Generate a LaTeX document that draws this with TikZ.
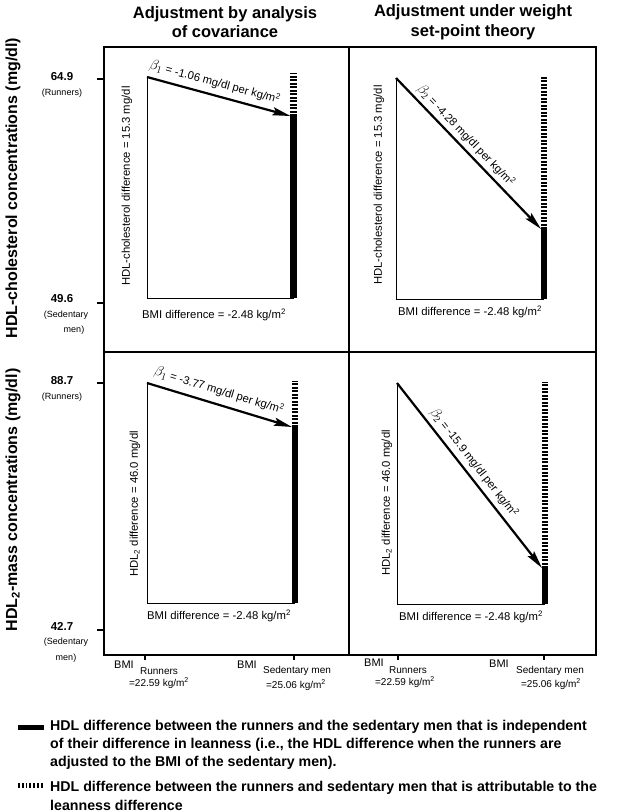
\documentclass[tikz,border=0pt]{standalone}
\usepackage{fontspec}
\setmainfont{Liberation Sans}
\usetikzlibrary{arrows.meta}
\begin{document}
\begin{tikzpicture}[x=1pt,y=-1pt,
  framelw/.style={line width=1.6pt},
  thinlw/.style={line width=0.9pt},
  slopearrow/.style={line width=2.2pt,-{Stealth[length=18pt,width=8pt,inset=3pt]}},
  solidbar/.style={line width=6.5pt},
  dashbar/.style={line width=6.5pt,dash pattern=on 2pt off 1.5pt},
  headtext/.style={font=\fontsize{16.5}{19.5}\selectfont\bfseries,align=center,inner sep=0pt},
  axistext/.style={font=\fontsize{16}{19}\selectfont\bfseries,rotate=90,inner sep=0pt},
  ticknum/.style={font=\fontsize{11.5}{13}\selectfont\bfseries,inner sep=0pt},
  ticksub/.style={font=\fontsize{9}{11}\selectfont,inner sep=0pt},
  paneltext/.style={font=\fontsize{11.3}{13}\selectfont,inner sep=0pt},
  slopetext/.style={font=\fontsize{11.3}{13}\selectfont,inner sep=0pt},
  bmitext/.style={font=\fontsize{11}{12}\selectfont,inner sep=0pt},
  bmisub/.style={font=\fontsize{10}{11}\selectfont,inner sep=0pt},
  legtext/.style={font=\fontsize{14.2}{16}\selectfont\bfseries,anchor=west,inner sep=0pt}
]
\useasboundingbox (0,0) rectangle (624,812);

% headers
\node[headtext] (h1) at (225,22) {Adjustment by analysis\\of covariance};
\node[headtext] (h2) at (473,22) {Adjustment under weight\\set-point theory};

% axis titles
\node[axistext] (ay1) at (13,188) {HDL-cholesterol concentrations (mg/dl)};
\node[axistext] (ay2) at (13,500) {HDL\textsubscript{2}-mass concentrations (mg/dl)};

% frame
\draw[framelw] (104,47) rectangle (596,655);
\draw[framelw] (349,47) -- (349,655);
\draw[framelw] (104,352) -- (596,352);

% left ticks
\draw[framelw] (97,79) -- (104,79);
\draw[framelw] (97,303) -- (104,303);
\draw[framelw] (97,383) -- (104,383);
\draw[framelw] (97,630) -- (104,630);
% bottom ticks
\draw[framelw] (145,655) -- (145,660);
\draw[framelw] (294,655) -- (294,660);
\draw[framelw] (398,655) -- (398,660);
\draw[framelw] (544,655) -- (544,660);

% tick labels
\node[ticknum] (t1) at (62,77) {64.9};
\node[ticksub] (t1s) at (62,93) {(Runners)};
\node[ticknum] (t2) at (62,299) {49.6};
\node[ticksub] (t2s) at (66,315) {(Sedentary};
\node[ticksub] (t2m) at (74,330) {men)};
\node[ticknum] (t3) at (62,381) {88.7};
\node[ticksub] (t3s) at (62,397) {(Runners)};
\node[ticknum] (t4) at (62,626) {42.7};
\node[ticksub] (t4s) at (66,642) {(Sedentary};
\node[ticksub] (t4m) at (66,658) {men)};

% ---------- panel 1 ----------
\coordinate (p1top) at (147,77);
\coordinate (p1cor) at (147,298);
\coordinate (p1bot) at (293.5,298);
\coordinate (p1end) at (293.5,116);
\coordinate (p1dash) at (293.5,73);
\draw[thinlw] (p1top) -- (p1cor) -- (p1bot);
\draw[solidbar] (p1bot) -- (p1end);
\draw[dashbar] (p1end) -- (p1dash);
\draw[slopearrow] (p1top) -- ([xshift=-3pt]p1end)
  node[pos=0.45,sloped,above=5pt,slopetext] (p1s) {{\Large$\beta_1$} = -1.06 mg/dl per kg/m\textsuperscript{2}};
\node[paneltext,rotate=90] (p1v) at (127,186) {HDL-cholesterol difference = 15.3 mg/dl};
\node[paneltext] (p1h) at (214,315) {BMI difference = -2.48 kg/m\textsuperscript{2}};

% ---------- panel 2 ----------
\coordinate (p2top) at (396,78);
\coordinate (p2cor) at (396,299);
\coordinate (p2bot) at (544,299);
\coordinate (p2end) at (544,229);
\coordinate (p2dash) at (544,75);
\draw[thinlw] (p2top) -- (p2cor) -- (p2bot);
\draw[solidbar] (p2bot) -- (p2end);
\draw[dashbar] (p2end) -- (p2dash);
\draw[slopearrow] (p2top) -- ([xshift=-3pt]p2end)
  node[pos=0.43,sloped,above=3pt,slopetext] (p2s) {{\Large$\beta_2$} = -4.28 mg/dl per kg/m\textsuperscript{2}};
\node[paneltext,rotate=90] (p2v) at (379,185) {HDL-cholesterol difference = 15.3 mg/dl};
\node[paneltext] (p2h) at (470,312) {BMI difference = -2.48 kg/m\textsuperscript{2}};

% ---------- panel 3 ----------
\coordinate (p3top) at (147,383);
\coordinate (p3cor) at (147,603);
\coordinate (p3bot) at (295,603);
\coordinate (p3end) at (295,427);
\coordinate (p3dash) at (295,381);
\draw[thinlw] (p3top) -- (p3cor) -- (p3bot);
\draw[solidbar] (p3bot) -- (p3end);
\draw[dashbar] (p3end) -- (p3dash);
\draw[slopearrow] (p3top) -- ([xshift=-3pt]p3end)
  node[pos=0.47,sloped,above=6pt,slopetext] (p3s) {{\Large$\beta_1$} = -3.77 mg/dl per kg/m\textsuperscript{2}};
\node[paneltext,rotate=90] (p3v) at (135,504) {HDL\textsubscript{2} difference = 46.0 mg/dl};
\node[paneltext] (p3h) at (219,616) {BMI difference = -2.48 kg/m\textsuperscript{2}};

% ---------- panel 4 ----------
\coordinate (p4top) at (397,383);
\coordinate (p4cor) at (397,604);
\coordinate (p4bot) at (545,604);
\coordinate (p4end) at (545,568);
\coordinate (p4dash) at (545,382);
\draw[thinlw] (p4top) -- (p4cor) -- (p4bot);
\draw[solidbar] (p4bot) -- (p4end);
\draw[dashbar] (p4end) -- (p4dash);
\draw[slopearrow] (p4top) -- ([xshift=-3pt]p4end)
  node[pos=0.47,sloped,above=4pt,slopetext] (p4s) {{\Large$\beta_2$} = -15.9 mg/dl per kg/m\textsuperscript{2}};
\node[paneltext,rotate=90] (p4v) at (387,503) {HDL\textsubscript{2} difference = 46.0 mg/dl};
\node[paneltext] (p4h) at (471,617) {BMI difference = -2.48 kg/m\textsuperscript{2}};

% ---------- bottom BMI labels ----------
\node[bmitext] (b1) at (124,665) {BMI};
\node[bmisub] (b1s) at (159,671) {Runners};
\node[bmisub] (b1v) at (159,683) {=22.59 kg/m\textsuperscript{2}};
\node[bmitext] (b2) at (247,665) {BMI};
\node[bmisub] (b2s) at (297,671) {Sedentary men};
\node[bmisub] (b2v) at (296,685) {=25.06 kg/m\textsuperscript{2}};
\node[bmitext] (b3) at (374,663) {BMI};
\node[bmisub] (b3s) at (408,670) {Runners};
\node[bmisub] (b3v) at (405,682) {=22.59 kg/m\textsuperscript{2}};
\node[bmitext] (b4) at (499,664) {BMI};
\node[bmisub] (b4s) at (550,671) {Sedentary men};
\node[bmisub] (b4v) at (551,684) {=25.06 kg/m\textsuperscript{2}};

% ---------- legend ----------
\coordinate (l1a) at (18,727);
\coordinate (l1b) at (44,727);
\draw[line width=5pt] (l1a) -- (l1b);
\node[legtext] (l1t1) at (50,727) {HDL difference between the runners and the sedentary men that is independent};
\node[legtext] (l1t2) at (50,745) {of their difference in leanness (i.e., the HDL difference when the runners are};
\node[legtext] (l1t3) at (50,763) {adjusted to the BMI of the sedentary men).};
\coordinate (l2a) at (18,785);
\coordinate (l2b) at (44,785);
\draw[line width=5pt,dash pattern=on 1.8pt off 2pt] (l2a) -- (l2b);
\node[legtext] (l2t1) at (50,788) {HDL difference between the runners and sedentary men that is attributable to the};
\node[legtext] (l2t2) at (50,805) {leanness difference};
\end{tikzpicture}
\end{document}
